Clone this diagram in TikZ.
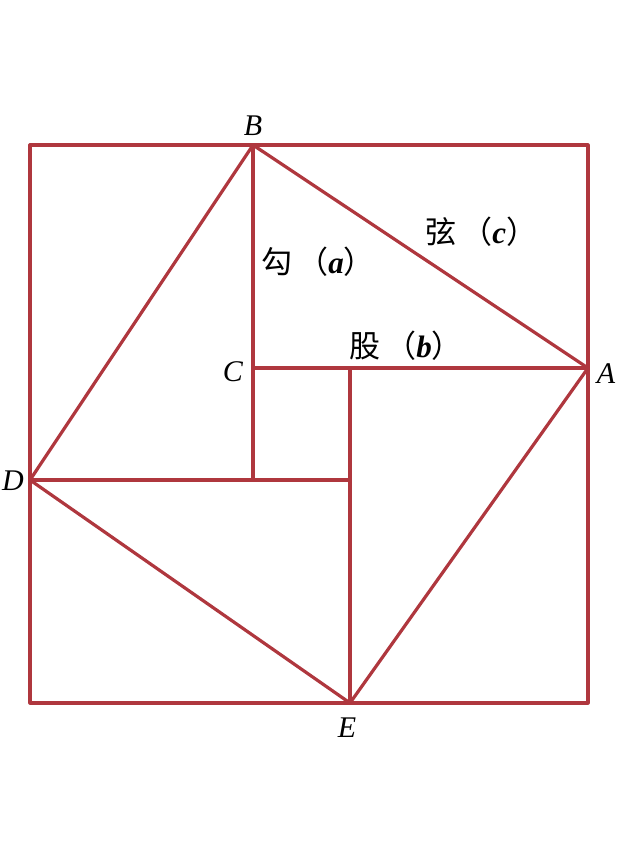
\documentclass[tikz,border=0pt]{standalone}
\usepackage{fontspec}
\setmainfont{Liberation Serif}
\newfontfamily\cjk{Noto Sans CJK SC}
\definecolor{edge}{RGB}{175,55,62}
\begin{document}
\begin{tikzpicture}[x=1pt,y=-1pt,
  ln/.style={draw=edge,line width=3.2pt,line join=round,line cap=round},
  pt/.style={font=\fontsize{30}{32}\selectfont\itshape,inner sep=0pt},
  lab/.style={font=\fontsize{31}{33}\selectfont,inner sep=0pt}]
\useasboundingbox (0,0) rectangle (636,847);
\coordinate (O1) at (30,145);
\coordinate (O2) at (588,145);
\coordinate (O3) at (588,703);
\coordinate (O4) at (30,703);
\coordinate (B) at (253,145);
\coordinate (A) at (588,368);
\coordinate (D) at (30,480);
\coordinate (E) at (350,703);
\coordinate (C) at (253,368);
\coordinate (C2) at (350,368);
\coordinate (C3) at (350,480);
\coordinate (C4) at (253,480);
\draw[ln] (O1) -- (O2) -- (O3) -- (O4) -- cycle;
\draw[ln] (B) -- (A) -- (E) -- (D) -- cycle;
\draw[ln] (B) -- (C4);
\draw[ln] (C) -- (A);
\draw[ln] (C2) -- (E);
\draw[ln] (D) -- (C3);
\node[pt] (lB) at (253,126) {B};
\node[pt] (lC) at (233,372) {C};
\node[pt] (lA) at (606,374) {A};
\node[pt,anchor=east] (lD) at (24,481) {D};
\node[pt] (lE) at (347,728) {E};
\node[lab,anchor=west] (la) at (261,262) {{\cjk 勾\,（}\textbf{\textit{a}}{\cjk ）}};
\node[lab,anchor=west] (lc) at (425,232) {{\cjk 弦\,（}\textbf{\textit{c}}{\cjk ）}};
\node[lab,anchor=west] (lb) at (349,346) {{\cjk 股\,（}\textbf{\textit{b}}{\cjk ）}};
\end{tikzpicture}
\end{document}
